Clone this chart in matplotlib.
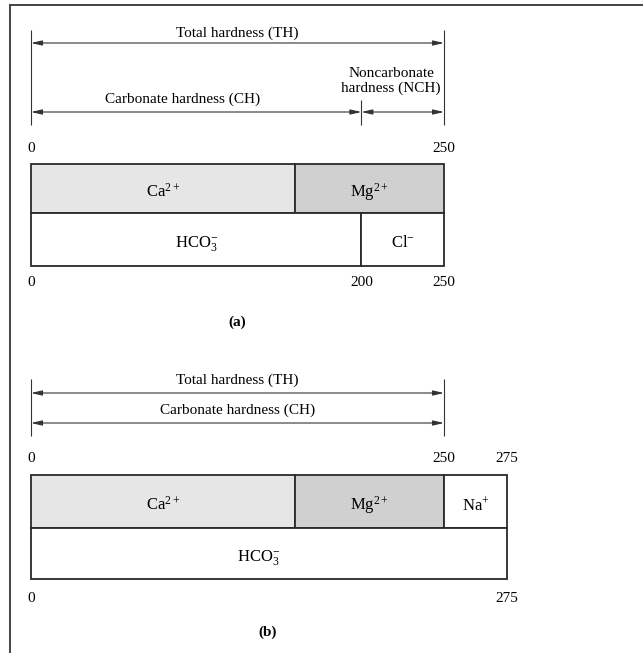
import numpy as np
import matplotlib
matplotlib.use('Agg')
import matplotlib.pyplot as plt
from matplotlib.lines import Line2D

plt.rcParams['font.family'] = 'Liberation Serif'
plt.rcParams['mathtext.fontset'] = 'custom'
plt.rcParams['mathtext.rm'] = 'Liberation Serif'
plt.rcParams['mathtext.it'] = 'Liberation Serif:italic'

# (a) cations / anions, mg/L as CaCO3
cations_a = ['Ca$^{2+}$', 'Mg$^{2+}$']
cation_vals_a = [160, 90]
anions_a = ['HCO$_3^{-}$', 'Cl$^{-}$']
anion_vals_a = [200, 50]
top_ticks_a = [0, 250]
bot_ticks_a = [0, 200, 250]

# (b)
cations_b = ['Ca$^{2+}$', 'Mg$^{2+}$', 'Na$^{+}$']
cation_vals_b = [160, 90, 25]
anions_b = ['HCO$_3^{-}$']
anion_vals_b = [275]
top_ticks_b = [0, 250, 275]
bot_ticks_b = [0, 275]

colors = {'Ca$^{2+}$': '#e6e6e6', 'Mg$^{2+}$': '#d0d0d0'}
edge = '#2a2a2a'
FS = 11
FS_ION = 12

W, H = 643, 653
fig = plt.figure(figsize=(W / 100, H / 100), dpi=100)
ax = fig.add_axes([0, 0, 1, 1])
ax.axis('off')

# schematic scale: the last 25 units of (b) are drawn wider
px = 413 / 250
kx = [-500, 0, 250, 275, 1000]
kf = [-500, 0, 250, 288, 288 + 725]
fwd = lambda x: np.interp(x, kx, kf)
inv = lambda f: np.interp(f, kf, kx)
ax.set_xscale('function', functions=(fwd, inv))
ax.set_xlim(inv(-31 / px), inv((W - 31) / px))
ax.set_ylim(H, 0)


def arrow(x0, x1, y):
    ax.annotate('', xy=(x1, y), xytext=(x0, y),
                arrowprops=dict(arrowstyle='<|-|>,head_length=0.65,head_width=0.15',
                                lw=0.8, color='#333333', shrinkA=0, shrinkB=0,
                                mutation_scale=10))


def bars(y_top, y_mid, y_bot, cats, vals, acats, avals):
    left = np.concatenate([[0], np.cumsum(vals)[:-1]])
    ax.barh((y_top + y_mid) / 2, vals, left=left, height=y_mid - y_top,
            color=[colors.get(c, 'white') for c in cats], edgecolor=edge, lw=1.3)
    for c, l, v in zip(cats, left, vals):
        ax.text(l + v / 2, (y_top + y_mid) / 2 + 8.5, c, ha='center', va='baseline',
                fontsize=FS_ION)
    aleft = np.concatenate([[0], np.cumsum(avals)[:-1]])
    ax.barh((y_mid + y_bot) / 2, avals, left=aleft, height=y_bot - y_mid,
            color='white', edgecolor=edge, lw=1.3)
    for c, l, v in zip(acats, aleft, avals):
        ax.text(l + v / 2, (y_mid + y_bot) / 2 + 7.5, c, ha='center', va='baseline',
                fontsize=FS_ION)


# ---- panel (a)
th_a = sum(cation_vals_a)
ch_a = anion_vals_a[0]
ax.vlines([0, th_a], 30, 125, color='#333333', lw=0.8)
ax.vlines([ch_a], 100, 125, color='#333333', lw=0.8)
ax.text(th_a / 2, 33, 'Total hardness (TH)', ha='center', va='center', fontsize=FS)
arrow(0, th_a, 43)
ax.text(92, 99, 'Carbonate hardness (CH)', ha='center', va='center', fontsize=FS)
arrow(0, ch_a, 112)
ax.text(218, 81, 'Noncarbonate\nhardness (NCH)', ha='center', va='center',
        fontsize=FS, linespacing=1.15)
arrow(ch_a, th_a, 112)
for t in top_ticks_a:
    ax.text(t, 149, str(t), ha='center', va='center', fontsize=FS)
bars(164, 213, 266, cations_a, cation_vals_a, anions_a, anion_vals_a)
for t in bot_ticks_a:
    ax.text(t, 283, str(t), ha='center', va='center', fontsize=FS)
ax.text(th_a / 2, 322, '(a)', ha='center', va='center', fontsize=FS, fontweight='bold')

# ---- panel (b)
th_b = sum(cation_vals_b[:2])
ax.vlines([0, th_b], 379, 436, color='#333333', lw=0.8)
ax.text(th_b / 2, 380, 'Total hardness (TH)', ha='center', va='center', fontsize=FS)
arrow(0, th_b, 393)
ax.text(th_b / 2, 410, 'Carbonate hardness (CH)', ha='center', va='center', fontsize=FS)
arrow(0, th_b, 423)
for t in top_ticks_b:
    ax.text(t, 459, str(t), ha='center', va='center', fontsize=FS)
bars(475, 528, 579, cations_b, cation_vals_b, anions_b, anion_vals_b)
for t in bot_ticks_b:
    ax.text(t, 598, str(t), ha='center', va='center', fontsize=FS)
ax.text(143, 632, '(b)', ha='center', va='center', fontsize=FS, fontweight='bold')

# page frame (left and top edges)
fig.add_artist(Line2D([9.5 / W, 9.5 / W], [0, 1 - 5 / H], color='#444444', lw=1.4))
fig.add_artist(Line2D([9.5 / W, 1], [1 - 5 / H, 1 - 5 / H], color='#444444', lw=1.4))

fig.savefig('out.png', dpi=100)
